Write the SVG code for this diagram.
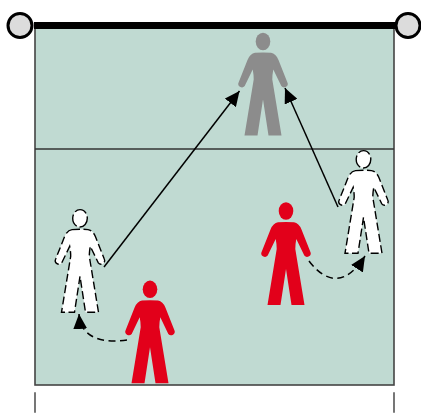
<svg xmlns="http://www.w3.org/2000/svg" xmlns:xlink="http://www.w3.org/1999/xlink" width="421" height="413" viewBox="0 0 421 413">
<style>
.line{fill:none;stroke:#000;stroke-width:1.5}
.dash{fill:none;stroke:#000;stroke-width:1.5;stroke-dasharray:7 4.500}
.post{fill:#dcdcdc;stroke:#000;stroke-width:3}
.red{fill:#e2001a}
.grey{fill:#8c8c8c}
.white{fill:#fff;stroke:#000;stroke-width:1.400;stroke-dasharray:8 3.500}
.head{stroke-dasharray:13 3}
</style>
<defs>
<marker id="arrow" markerUnits="userSpaceOnUse" markerWidth="15" markerHeight="14" refX="15" refY="7" orient="auto"><path d="M0 0L15 7L0 14Z" fill="#000"/></marker>
<g id="person">
<ellipse class="head" cx="0" cy="0" rx="7.300" ry="8.700"/>
<path d="M-8 11.300Q0 10.600 8 11.300Q12.800 12 15.500 18.500L24.300 40.700A3.600 3.600 0 0 1 18.300 44.600L10.300 28Q9.300 33 9.300 38L18.500 94H5.500L0 58L-5.500 94H-18.500L-9.300 38Q-9.300 33 -10.300 28L-18.300 44.600A3.600 3.600 0 0 1 -24.300 40.700L-15.500 18.500Q-12.800 12 -8 11.300Z"/>
</g>
</defs>
<g id="court">
<rect x="35" y="27" width="359" height="358" fill="#c0dad2" stroke="#444" stroke-width="1.600"/>
<path d="M35 149H394" stroke="#333" stroke-width="1.300" fill="none"/>
<path d="M35 392.300V412.700M394 392.300V412.700" stroke="#555" stroke-width="1.600" fill="none"/>
</g>
<g id="net">
<path d="M34 25.500H395" stroke="#000" stroke-width="7" fill="none"/>
<circle class="post" cx="20" cy="25.500" r="12"/>
<circle class="post" cx="408" cy="25.500" r="12"/>
</g>
<g id="player-grey"><use href="#person" x="263" y="41.500" class="grey"/></g>
<g id="player-white-left"><use href="#person" x="80" y="218.300" class="white"/></g>
<g id="player-white-right"><use href="#person" x="363.500" y="159.300" class="white"/></g>
<g id="player-red-left"><use href="#person" x="150" y="289.300" class="red"/></g>
<g id="player-red-right"><use href="#person" x="286" y="211" class="red"/></g>
<g id="connectors">
<path class="line" d="M104 267L239.500 91" marker-end="url(#arrow)"/>
<path class="line" d="M338 207L285 88" marker-end="url(#arrow)"/>
<path class="dash" d="M127 340C105 343 81 340 79 314" marker-end="url(#arrow)"/>
<path class="dash" d="M309 261C318 273 328 279 337 278.300C348 278 358 267 365 256" marker-end="url(#arrow)"/>
</g>
</svg>
